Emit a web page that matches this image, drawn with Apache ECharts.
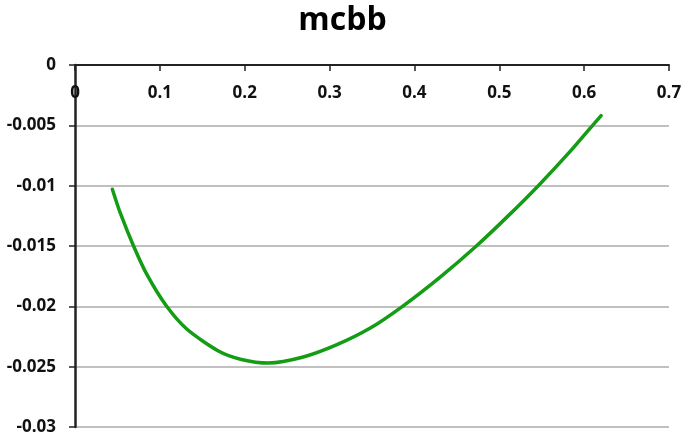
<!DOCTYPE html>
<html><head><meta charset="utf-8">
<script src="https://cdn.jsdelivr.net/npm/echarts@6/dist/echarts.min.js"></script>
<style>html,body{margin:0;padding:0;background:#fff}#c{width:685px;height:435px}</style>
</head><body><div id="c"></div>
<script>
const title = 'mcbb';
const xValues = [0.044, 0.053, 0.069, 0.085, 0.108, 0.132, 0.169, 0.196, 0.228, 0.269, 0.308, 0.348, 0.386, 0.430, 0.473, 0.512, 0.546, 0.583, 0.610, 0.620];
const yValues = [-0.0103, -0.0122, -0.0150, -0.0174, -0.0200, -0.0219, -0.0237, -0.0244, -0.0247, -0.0242, -0.0232, -0.0218, -0.0200, -0.0176, -0.0150, -0.0124, -0.0100, -0.0072, -0.0050, -0.0042];

const chart = echarts.init(document.getElementById('c'), null, {renderer: 'canvas'});
const font = 'Open Sans';
chart.setOption({
  animation: false,
  title: {text: title, left: 'center', top: 0,
    textStyle: {fontFamily: font, fontWeight: 'bold', fontSize: 32, color: '#000'}},
  grid: {left: 75, right: 16, top: 65, bottom: 8, containLabel: false, outerBoundsMode: 'none'},
  xAxis: {type: 'value', min: 0, max: 0.7, interval: 0.1, position: 'top',
    axisLine: {onZero: false, lineStyle: {color: '#222', width: 2}},
    axisTick: {show: true, inside: true, length: 6, lineStyle: {color: '#222', width: 1.5}},
    axisLabel: {inside: true, fontFamily: font, fontWeight: 'bold', fontSize: 17, color: '#111', margin: 20},
    splitLine: {show: false}},
  yAxis: {type: 'value', min: -0.03, max: 0, interval: 0.005,
    axisLine: {show: true, onZero: false, lineStyle: {color: '#222', width: 2.5}},
    axisTick: {show: true, length: 6, lineStyle: {color: '#222', width: 1.5}},
    axisLabel: {fontFamily: font, fontWeight: 'bold', fontSize: 17, color: '#111', margin: 19},
    splitLine: {lineStyle: {color: '#ababab', width: 1.5}}},
  series: [{type: 'line', data: xValues.map((x, i) => [x, yValues[i]]),
    smooth: 0.25, showSymbol: false, lineStyle: {color: '#149c14', width: 3.5, cap: 'round'}}]
});
</script></body></html>
